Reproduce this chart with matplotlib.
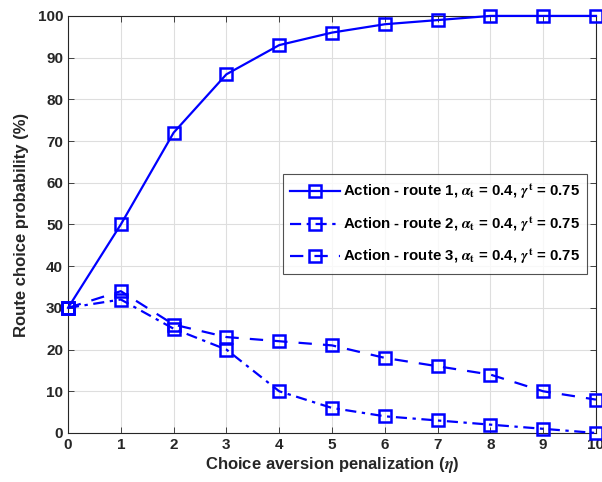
import matplotlib
matplotlib.use("Agg")
import matplotlib.pyplot as plt

eta = [0, 1, 2, 3, 4, 5, 6, 7, 8, 9, 10]
route1 = [30, 50, 72, 86, 93, 96, 98, 99, 100, 100, 100]
route2 = [30, 32, 25, 20, 10, 6, 4, 3, 2, 1, 0]
route3 = [30, 34, 26, 23, 22, 21, 18, 16, 14, 10, 8]
labels = [
    r"Action - route 1, $\alpha_{\mathbf{t}}$ = 0.4, $\gamma^{\mathbf{t}}$ = 0.75",
    r"Action - route 2, $\alpha_{\mathbf{t}}$ = 0.4, $\gamma^{\mathbf{t}}$ = 0.75",
    r"Action - route 3, $\alpha_{\mathbf{t}}$ = 0.4, $\gamma^{\mathbf{t}}$ = 0.75",
]

plt.rcParams['font.family'] = ['Liberation Sans', 'DejaVu Sans']
plt.rcParams['font.weight'] = 'bold'
plt.rcParams['mathtext.fontset'] = 'stix'

fig = plt.figure(figsize=(6.02, 4.82), dpi=100)
ax = fig.add_axes([0.113, 0.1017, 0.877, 0.8653])

blue = (0, 0, 1)
common = dict(color=blue, marker='s', markersize=9, markerfacecolor='none',
              markeredgewidth=1.8, linewidth=1.6, clip_on=False, zorder=3)
ax.plot(eta, route1, linestyle='-', label=labels[0], **common)
ax.plot(eta, route2, linestyle=(0, (5, 2.5, 1.5, 2.5)), label=labels[1], **common)
ax.plot(eta, route3, linestyle=(0, (6, 5)), label=labels[2], **common)

ax.set_xlim(0, 10)
ax.set_ylim(0, 100)
ax.set_xticks(range(0, 11))
ax.set_yticks(range(0, 101, 10))
ax.grid(True, color=(0.87, 0.87, 0.87), linewidth=0.8)
ax.set_axisbelow(True)
ax.tick_params(direction='in', top=True, right=True, length=4, width=0.6,
               labelsize=11, colors=(0.15, 0.15, 0.15))
for lbl in ax.get_xticklabels() + ax.get_yticklabels():
    lbl.set_fontweight('bold')
for s in ax.spines.values():
    s.set_color((0.15, 0.15, 0.15))
    s.set_linewidth(0.8)

ax.set_xlabel(r"Choice aversion penalization ($\eta$)", fontsize=12,
              fontweight='bold', color=(0.15, 0.15, 0.15), labelpad=2)
ax.set_ylabel("Route choice probability (%)", fontsize=12,
              fontweight='bold', color=(0.15, 0.15, 0.15), labelpad=6)

leg = ax.legend(loc='upper left', bbox_to_anchor=(0.407, 0.62), fontsize=10.8,
                frameon=True, fancybox=False, edgecolor=(0.15, 0.15, 0.15),
                handlelength=3.3, borderpad=0.5, labelspacing=0.85,
                handletextpad=0.2, borderaxespad=0)
leg.get_frame().set_linewidth(0.8)
for t in leg.get_texts():
    t.set_fontweight('bold')

fig.savefig("out.png", dpi=100)
